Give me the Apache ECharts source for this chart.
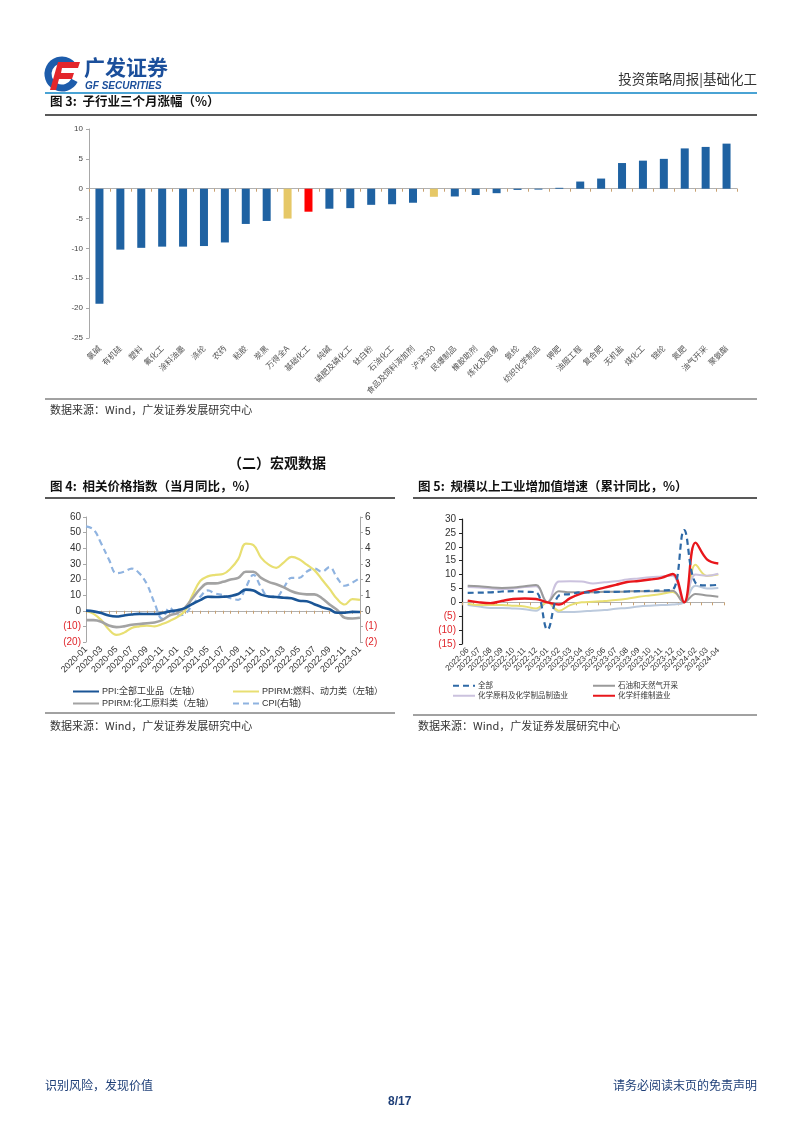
<!DOCTYPE html>
<html><head><meta charset="utf-8">
<script src="https://cdn.jsdelivr.net/npm/echarts@6/dist/echarts.min.js"></script>
<style>html,body{margin:0;padding:0;background:#fff}#c{width:802px;height:1133px}</style>
</head><body><div id="c"></div>
<script>
// ---------- Figure 3 data ----------
const fig3Categories = ['氯碱','有机硅','塑料','氟化工','涂料油墨','涤纶','农药','粘胶','炭黑','万得全A','基础化工','纯碱','磷肥及磷化工','钛白粉','石油化工','食品及饲料添加剂','沪深300','民爆制品','橡胶助剂','炼化及贸易','氨纶','纺织化学制品','钾肥','油服工程','复合肥','无机盐','煤化工','锦纶','氮肥','油气开采','聚氨酯'];
const fig3Values = [-19.25,-10.2,-9.9,-9.7,-9.7,-9.6,-9.0,-5.9,-5.4,-5.0,-3.85,-3.35,-3.25,-2.7,-2.6,-2.35,-1.35,-1.3,-1.05,-0.75,-0.2,-0.15,0.15,1.2,1.7,4.3,4.7,5.0,6.75,7.0,7.55];
const fig3YTicks = {min:-25, max:10, interval:5};

// ---------- Figure 4 data ----------
const fig4Months = ['2020-01','2020-02','2020-03','2020-04','2020-05','2020-06','2020-07','2020-08','2020-09','2020-10','2020-11','2020-12','2021-01','2021-02','2021-03','2021-04','2021-05','2021-06','2021-07','2021-08','2021-09','2021-10','2021-11','2021-12','2022-01','2022-02','2022-03','2022-04','2022-05','2022-06','2022-07','2022-08','2022-09','2022-10','2022-11','2022-12','2023-01'];
const fig4PPI = [0.1,-0.4,-1.5,-3.1,-3.7,-3.0,-2.4,-2.0,-2.1,-2.1,-1.5,-0.4,0.3,1.7,4.4,6.8,9.0,8.8,9.0,9.5,10.7,13.5,12.9,10.3,9.1,8.8,8.3,8.0,6.4,6.1,4.2,2.3,0.9,-1.3,-1.3,-0.7,-0.8];
const fig4Fuel = [0,-2,-6,-12,-15.5,-14,-11,-10,-9.5,-10,-8.5,-6.5,-4,0,10,19,22,23,23.5,27,33,43,42,34,29.5,27.5,31,34.5,33,29.5,26,20,14,7.5,4,7.5,7];
const fig4Chem = [-6,-6,-7,-9.5,-10.5,-10,-9,-8.5,-8,-7.5,-6,-3,-1.5,2,8,14,17.5,17.5,18.5,20,21,25,25,21,18.5,17,15,12.5,11,10.5,10.5,8,4,0.5,-4.5,-5,-4.5];
const fig4CPI = [5.4,5.2,4.3,3.3,2.4,2.5,2.7,2.4,1.7,0.5,-0.5,0.2,-0.3,-0.2,0.4,0.9,1.3,1.1,1.0,0.8,0.7,1.5,2.3,1.5,0.9,0.9,1.5,2.1,2.1,2.5,2.7,2.5,2.8,2.1,1.6,1.8,2.1];
const fig4LeftTicks = {min:-20, max:60, interval:10};
const fig4RightTicks = {min:-2, max:6, interval:1};

// ---------- Figure 5 data ----------
const fig5Months = ['2022-06','2022-07','2022-08','2022-09','2022-10','2022-11','2022-12','2023-01','2023-02','2023-03','2023-04','2023-05','2023-06','2023-07','2023-08','2023-09','2023-10','2023-11','2023-12','2024-01','2024-02','2024-03','2024-04'];
const fig5All = [3.4,3.5,3.6,3.9,4.0,3.8,3.6,-9.8,2.4,3.0,3.6,3.6,3.8,3.8,3.9,4.0,4.1,4.3,4.6,26,7.0,6.1,6.3];
const fig5OilGas = [6.0,5.8,5.4,5.2,5.3,5.8,6.2,0,4.0,3.6,3.6,3.6,3.8,3.8,3.9,4.0,4.0,4.0,4.2,0,3.0,2.5,2.0];
const fig5ChemRaw = [5.5,5.3,5.0,4.8,5.0,5.5,5.8,0,7.5,7.6,7.5,6.8,7.2,7.6,8.2,8.6,9.0,9.3,9.6,0,10.0,9.6,10.3];
const fig5Fiber = [0.6,0.0,-0.3,0.5,1.2,1.4,1.2,0,-0.8,1.5,3.2,4.3,5.3,6.3,7.3,7.7,8.2,8.8,10.2,0,21.5,15.5,14.0];
const fig5Other1 = [-0.5,-1.0,-1.0,-1.0,-1.2,-1.5,-2.2,0,-3.0,-1.0,0.0,0.2,0.5,0.8,1.3,2.0,2.5,3.0,3.7,0,13.5,9.5,10.0];
const fig5Other2 = [-1.0,-1.5,-2.0,-2.0,-2.2,-2.5,-3.0,0,-3.5,-3.5,-3.3,-3.0,-2.8,-2.3,-2.0,-1.5,-1.2,-1.0,-0.8,0,6.0,5.0,5.2];
const fig5YTicks = {min:-15, max:30, interval:5};

// ---------- styling / layout ----------
const NUM = 'Liberation Sans, Arial, Noto Sans CJK SC, sans-serif';
const CJK = 'Noto Sans CJK SC, sans-serif';
const BLUE = '#1f62a2';
function paren(v){ return v < 0 ? '{r|(' + (-v) + ')}' : '{n|' + v + '}'; }
const parenRich = {r:{color:'#e0262b', fontSize:10, fontFamily:NUM}, n:{color:'#333', fontSize:10, fontFamily:NUM}};

const chart = echarts.init(document.getElementById('c'), null, {renderer:'canvas'});

function zeroAxis(grid, data, boundaryGap){
  return {gridIndex:grid, type:'category', data:data, position:'bottom', boundaryGap:boundaryGap,
    axisLine:{show:true, onZero:true, lineStyle:{color:'#b0b0b0', width:1}},
    axisTick:{show:true, interval:0, length:3, lineStyle:{color:'#c8a070'}},
    axisLabel:{show:false}, splitLine:{show:false}};
}
function labelAxis(grid, data, boundaryGap, extra){
  return Object.assign({gridIndex:grid, type:'category', data:data, position:'bottom', boundaryGap:boundaryGap,
    axisLine:{show:false, onZero:false}, axisTick:{show:false}, splitLine:{show:false}}, extra);
}

const fig4Names = ['PPI:全部工业品（左轴）','PPIRM:燃料、动力类（左轴）','PPIRM:化工原料类（左轴）','CPI(右轴)'];
const fig5Names = ['全部','石油和天然气开采','化学原料及化学制品制造业','化学纤维制造业','系列5','系列6'];

function oneLegend(name, left, top, w, fs){
  return {data:[name], left:left, top:top, itemWidth:w, itemHeight:6, itemGap:2, padding:0, selectedMode:false,
    itemStyle:{opacity:0, borderWidth:0},
    textStyle:{fontSize:fs, color:'#333', fontFamily:NUM, padding:[0,0,0,-2]}};
}

const option = {
  animation:false,
  backgroundColor:'#fff',
  grid:[
    {left:89, right:65, top:129, bottom:795, containLabel:false},
    {left:86, right:442, top:517, bottom:491, containLabel:false},
    {left:462, right:78, top:519, bottom:489, containLabel:false}
  ],
  xAxis:[
    labelAxis(0, fig3Categories, true, {axisLabel:{interval:0, rotate:45, fontSize:8, color:'#555', fontFamily:CJK, margin:9}}),
    zeroAxis(0, fig3Categories, true),
    labelAxis(1, fig4Months, false, {axisLabel:{interval:1, rotate:45, fontSize:9, color:'#333', fontFamily:NUM, margin:6}}),
    zeroAxis(1, fig4Months, false),
    labelAxis(2, fig5Months, true, {axisLabel:{interval:0, rotate:45, fontSize:8, color:'#333', fontFamily:NUM, margin:5}}),
    zeroAxis(2, fig5Months, true)
  ],
  yAxis:[
    {gridIndex:0, type:'value', min:fig3YTicks.min, max:fig3YTicks.max, interval:fig3YTicks.interval,
      axisLine:{show:true, lineStyle:{color:'#a8a8a8'}}, axisTick:{show:true, length:3, lineStyle:{color:'#a8a8a8'}},
      splitLine:{show:false}, axisLabel:{fontSize:8, color:'#444', fontFamily:NUM, margin:6}},
    {gridIndex:1, type:'value', position:'left', min:fig4LeftTicks.min, max:fig4LeftTicks.max, interval:fig4LeftTicks.interval,
      axisLine:{show:true, onZero:false, lineStyle:{color:'#a8a8a8'}}, axisTick:{show:true, length:3, lineStyle:{color:'#a8a8a8'}},
      splitLine:{show:false}, axisLabel:{formatter:paren, rich:parenRich, margin:5}},
    {gridIndex:1, type:'value', position:'right', min:fig4RightTicks.min, max:fig4RightTicks.max, interval:fig4RightTicks.interval,
      axisLine:{show:true, onZero:false, lineStyle:{color:'#a8a8a8'}}, axisTick:{show:true, length:3, lineStyle:{color:'#a8a8a8'}},
      splitLine:{show:false}, axisLabel:{formatter:paren, rich:parenRich, margin:5}},
    {gridIndex:2, type:'value', min:fig5YTicks.min, max:fig5YTicks.max, interval:fig5YTicks.interval,
      axisLine:{show:true, onZero:false, lineStyle:{color:'#222', width:1.2}}, axisTick:{show:true, length:3, lineStyle:{color:'#222'}},
      splitLine:{show:false}, axisLabel:{formatter:paren, rich:parenRich, margin:6}}
  ],
  legend:[
    oneLegend(fig4Names[0], 72, 687, 26, 9),
    oneLegend(fig4Names[1], 232, 687, 26, 9),
    oneLegend(fig4Names[2], 72, 699, 26, 9),
    oneLegend(fig4Names[3], 232, 699, 26, 9),
    oneLegend(fig5Names[0], 452, 682, 22, 7.5),
    oneLegend(fig5Names[1], 592, 682, 22, 7.5),
    oneLegend(fig5Names[2], 452, 692, 22, 7.5),
    oneLegend(fig5Names[3], 592, 692, 22, 7.5)
  ],
  series:[
    {type:'bar', xAxisIndex:0, yAxisIndex:0, barWidth:8, data:fig3Values,
      itemStyle:{color:function(p){
        const n = fig3Categories[p.dataIndex];
        if (n === '基础化工') return '#ff0000';
        if (n === '万得全A' || n === '沪深300') return '#e6c867';
        return BLUE;}}},
    {name:fig4Names[0], type:'line', xAxisIndex:2, yAxisIndex:1, data:fig4PPI, smooth:0.4, symbol:'none', z:5,
      lineStyle:{color:'#1a5596', width:2.6}, itemStyle:{color:'#1a5596'}},
    {name:fig4Names[1], type:'line', xAxisIndex:2, yAxisIndex:1, data:fig4Fuel, smooth:0.4, symbol:'none', z:3,
      lineStyle:{color:'#e8df72', width:2.2}, itemStyle:{color:'#e8df72'}},
    {name:fig4Names[2], type:'line', xAxisIndex:2, yAxisIndex:1, data:fig4Chem, smooth:0.4, symbol:'none', z:4,
      lineStyle:{color:'#a3a3a3', width:2.6}, itemStyle:{color:'#a3a3a3'}},
    {name:fig4Names[3], type:'line', xAxisIndex:2, yAxisIndex:2, data:fig4CPI, smooth:0.4, symbol:'none', z:2,
      lineStyle:{color:'#8fb3e0', width:2.2, type:[6,4]}, itemStyle:{color:'#8fb3e0'}},
    {name:fig5Names[5], type:'line', xAxisIndex:4, yAxisIndex:3, data:fig5Other2, smooth:0.4, symbol:'none', z:2,
      lineStyle:{color:'#bccadd', width:2}, itemStyle:{color:'#bccadd'}},
    {name:fig5Names[4], type:'line', xAxisIndex:4, yAxisIndex:3, data:fig5Other1, smooth:0.4, symbol:'none', z:2,
      lineStyle:{color:'#e8df72', width:2}, itemStyle:{color:'#e8df72'}},
    {name:fig5Names[2], type:'line', xAxisIndex:4, yAxisIndex:3, data:fig5ChemRaw, smooth:0.4, symbol:'none', z:2,
      lineStyle:{color:'#cbc2de', width:2}, itemStyle:{color:'#cbc2de'}},
    {name:fig5Names[1], type:'line', xAxisIndex:4, yAxisIndex:3, data:fig5OilGas, smooth:0.4, symbol:'none', z:3,
      lineStyle:{color:'#9a9a9a', width:2}, itemStyle:{color:'#9a9a9a'}},
    {name:fig5Names[3], type:'line', xAxisIndex:4, yAxisIndex:3, data:fig5Fiber, smooth:0.4, symbol:'none', z:4,
      lineStyle:{color:'#e8161b', width:2.4}, itemStyle:{color:'#e8161b'}},
    {name:fig5Names[0], type:'line', xAxisIndex:4, yAxisIndex:3, data:fig5All, smooth:0.4, symbol:'none', z:5,
      lineStyle:{color:'#2e69a6', width:2.2, type:[6,4]}, itemStyle:{color:'#2e69a6'}}
  ],
  graphic:[
    // logo
    {type:'arc', shape:{cx:62, cy:74, r:14, startAngle:Math.PI*0.15, endAngle:Math.PI*1.75}, style:{stroke:'#1d5cab', lineWidth:7, fill:null}},
    {type:'polygon', shape:{points:[[58,62],[80,62],[78,68],[62,68],[61,73],[74,73],[72,79],[59,79],[56,90],[50,90]]}, style:{fill:'#e3262b'}},
    {type:'text', left:84, top:57, style:{text:'广发证券', font:'bold 21px Noto Sans CJK SC', fill:'#1b4f9b'}},
    {type:'text', left:85, top:81, style:{text:'GF SECURITIES', font:'italic bold 10px Liberation Sans', fill:'#1b4f9b'}},
    {type:'text', right:45, top:72, style:{text:'投资策略周报|基础化工', font:'13.5px Noto Sans CJK SC', fill:'#333'}},
    {type:'line', shape:{x1:45, y1:93, x2:757, y2:93}, style:{stroke:'#4aa3d4', lineWidth:2}},
    // figure 3
    {type:'text', left:50, top:95, style:{text:'图 3:  子行业三个月涨幅（%）', font:'bold 12.5px Noto Sans CJK SC', fill:'#111'}},
    {type:'line', shape:{x1:45, y1:115, x2:757, y2:115}, style:{stroke:'#222', lineWidth:1.5}},
    {type:'line', shape:{x1:45, y1:399, x2:757, y2:399}, style:{stroke:'#444', lineWidth:1}},
    {type:'text', left:50, top:404, style:{text:'数据来源：Wind，广发证券发展研究中心', font:'11px Noto Sans CJK SC', fill:'#333'}},
    // section
    {type:'text', left:228, top:456, style:{text:'（二）宏观数据', font:'bold 14px Noto Sans CJK SC', fill:'#111'}},
    // figure 4
    {type:'text', left:50, top:480, style:{text:'图 4:  相关价格指数（当月同比，%）', font:'bold 12.5px Noto Sans CJK SC', fill:'#111'}},
    {type:'line', shape:{x1:45, y1:498, x2:395, y2:498}, style:{stroke:'#222', lineWidth:1.5}},
    {type:'line', shape:{x1:45, y1:713, x2:395, y2:713}, style:{stroke:'#444', lineWidth:1}},
    {type:'text', left:50, top:720, style:{text:'数据来源：Wind，广发证券发展研究中心', font:'11px Noto Sans CJK SC', fill:'#333'}},
    // figure 5
    {type:'text', left:418, top:480, style:{text:'图 5:  规模以上工业增加值增速（累计同比，%）', font:'bold 12.5px Noto Sans CJK SC', fill:'#111'}},
    {type:'line', shape:{x1:413, y1:498, x2:757, y2:498}, style:{stroke:'#222', lineWidth:1.5}},
    {type:'line', shape:{x1:413, y1:715, x2:757, y2:715}, style:{stroke:'#444', lineWidth:1}},
    {type:'text', left:418, top:720, style:{text:'数据来源：Wind，广发证券发展研究中心', font:'11px Noto Sans CJK SC', fill:'#333'}},
    // footer
    {type:'text', left:45, top:1079, style:{text:'识别风险，发现价值', font:'12px Noto Sans CJK SC', fill:'#1e3f78'}},
    {type:'text', right:45, top:1079, style:{text:'请务必阅读末页的免责声明', font:'12px Noto Sans CJK SC', fill:'#1e3f78'}},
    {type:'text', left:388, top:1096, style:{text:'8/17', font:'bold 12px Liberation Sans', fill:'#1e3f78'}}
  ]
};
chart.setOption(option);
</script></body></html>
